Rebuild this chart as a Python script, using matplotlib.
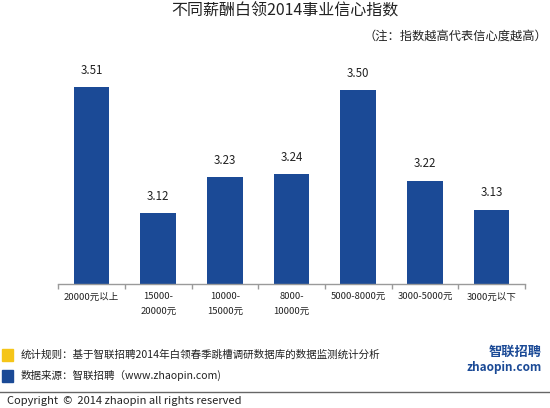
import matplotlib
matplotlib.use("Agg")
import matplotlib.pyplot as plt
from matplotlib.patches import Rectangle

plt.rcParams['font.family'] = ['Noto Sans CJK SC', 'DejaVu Sans']

# data
categories = ["20000元以上", "15000-\n20000元", "10000-\n15000元", "8000-\n10000元",
              "5000-8000元", "3000-5000元", "3000元以下"]
confidence = [3.51, 3.12, 3.23, 3.24, 3.50, 3.22, 3.13]

title = "不同薪酬白领2014事业信心指数"
note = "（注：指数越高代表信心度越高）"
legend_items = [("#F5C518", "统计规则：基于智联招聘2014年白领春季跳槽调研数据库的数据监测统计分析"),
                ("#1B4A96", "数据来源：智联招聘（www.zhaopin.com)")]

bar_color = "#1B4A96"
text_color = "#222222"

fig = plt.figure(figsize=(5.5, 4.08), dpi=100)
ax = fig.add_axes([0.106, 0.304, 0.8485, 0.554])

x = list(range(len(categories)))
bars = ax.bar(x, confidence, width=0.535, color=bar_color)
for xi, v in zip(x, confidence):
    ax.annotate(f"{v:.2f}", (xi, v), xytext=(0, 7.5), textcoords="offset points",
                ha="center", va="bottom", fontsize=8.3, color=text_color)

ax.set_xlim(-0.5, len(categories) - 0.5)
ax.set_ylim(2.9, 3.6)
for side in ["top", "right", "left"]:
    ax.spines[side].set_visible(False)
ax.spines["bottom"].set_color("#9a9a9a")
ax.spines["bottom"].set_linewidth(1.0)
ax.set_yticks([])
ax.set_xticks(x)
ax.set_xticklabels(categories, fontsize=6.8, color=text_color, linespacing=1.75, va="top")
ax.tick_params(axis="x", which="major", length=0, pad=6)
ax.set_xticks([i - 0.5 for i in range(len(categories) + 1)], minor=True)
ax.tick_params(axis="x", which="minor", length=3.5, color="#9a9a9a", width=1.0)

fig.text(0.518, 0.972, title, ha="center", va="center", fontsize=11.5, color=text_color)
fig.text(0.995, 0.912, note, ha="right", va="center", fontsize=8.8,
         color=text_color, fontweight="medium")

# legend-like notes at the bottom
for i, (col, txt) in enumerate(legend_items):
    yc = 1 - (355 + 20.5 * i) / 408
    fig.patches.append(Rectangle((2 / 550, yc - 6 / 408), 11 / 550, 12 / 408,
                                 transform=fig.transFigure, color=col))
    fig.text(21 / 550, yc, txt, ha="left", va="center", fontsize=7.6, color=text_color)

# logo approximation
fig.text(0.985, 1 - 352 / 408, "智联招聘", ha="right", va="center", fontsize=9.5,
         color="#1B4A96", fontweight="bold", style="italic")
fig.text(0.985, 1 - 368 / 408, "zhaopin.com", ha="right", va="center", fontsize=8.5,
         color="#1B4A96", fontweight="bold", style="italic")

# footer line and copyright
fig.add_artist(plt.Line2D([0, 1], [1 - 391.5 / 408] * 2, color="#666666", lw=1.0,
                          transform=fig.transFigure))
fig.text(7 / 550, 1 - 401 / 408, "Copyright  ©  2014 zhaopin all rights reserved",
         ha="left", va="center", fontsize=8.0, color=text_color)

fig.savefig("out.png", dpi=100)
